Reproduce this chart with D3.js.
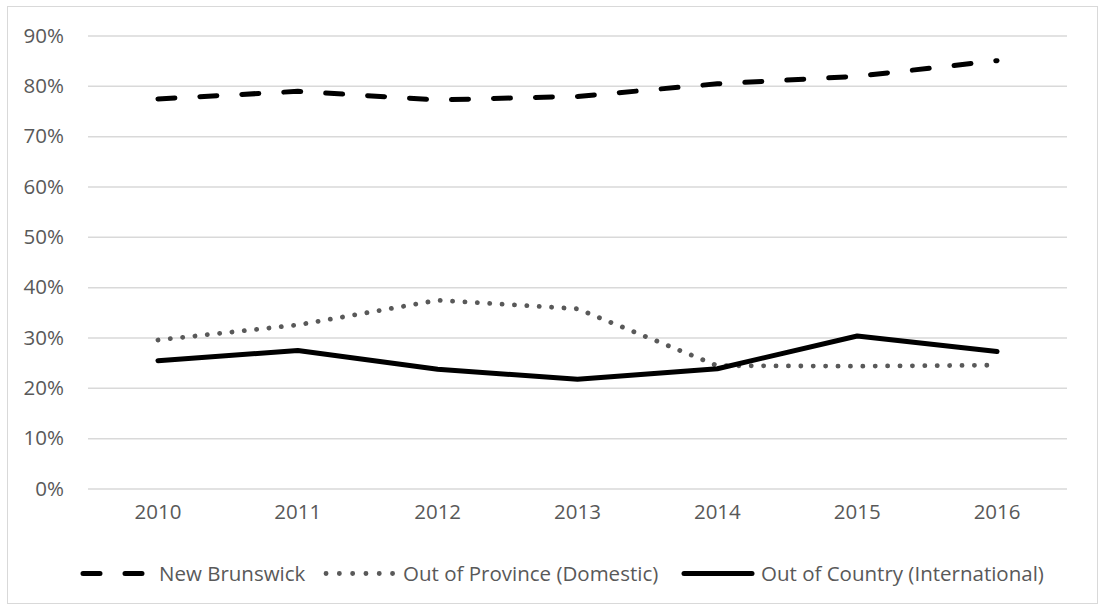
<!DOCTYPE html>
<html>
<head>
<meta charset="utf-8">
<script src="https://cdn.jsdelivr.net/npm/d3@7"></script>
<style>
  html, body { margin: 0; padding: 0; background: #fff; }
  svg { display: block; }
  text { font-family: "Open Sans", sans-serif; fill: #595959; }
</style>
</head>
<body>
<script>
const years = ["2010", "2011", "2012", "2013", "2014", "2015", "2016"];
const newBrunswick = [0.774, 0.789, 0.772, 0.779, 0.804, 0.819, 0.850];
const outOfProvince = [0.295, 0.325, 0.374, 0.357, 0.244, 0.243, 0.245];
const outOfCountry = [0.254, 0.274, 0.237, 0.217, 0.238, 0.303, 0.272];
const yTicks = [0, 0.1, 0.2, 0.3, 0.4, 0.5, 0.6, 0.7, 0.8, 0.9];
const seriesNames = ["New Brunswick", "Out of Province (Domestic)", "Out of Country (International)"];

const W = 1104, H = 609;
const FS = 20.5;
const svg = d3.select("body").append("svg").attr("width", W).attr("height", H);

// chart border
svg.append("rect").attr("x", 7.5).attr("y", 6.5).attr("width", 1090).attr("height", 597)
  .attr("fill", "#fff").attr("stroke", "#d9d9d9").attr("stroke-width", 1);

const x = d3.scaleBand().domain(years).range([88, 1067]);
const y = d3.scaleLinear().domain([0, 0.9]).range([488.5, 35.5]);
const cx = d => x(d) + x.bandwidth() / 2;

// gridlines + y labels
const yAxis = d3.axisLeft(y).tickValues(yTicks).tickFormat(d3.format(".0%"))
  .tickSize(-(1067 - 88)).tickPadding(24);
const gy = svg.append("g").attr("transform", "translate(88,0)").call(yAxis);
gy.select(".domain").remove();
gy.selectAll(".tick line").attr("stroke", "#d9d9d9").attr("stroke-width", 1.5);
gy.selectAll(".tick text").attr("font-size", FS).attr("fill", "#595959")
  .attr("font-family", "Open Sans, sans-serif");

// x axis labels
const xAxis = d3.axisBottom(x).tickSize(0).tickPadding(16);
const gx = svg.append("g").attr("transform", "translate(0,488.5)").call(xAxis);
gx.select(".domain").remove();
gx.selectAll(".tick text").attr("font-size", FS).attr("fill", "#595959")
  .attr("font-family", "Open Sans, sans-serif");

const styles = [
  { data: newBrunswick, color: "#000", width: 5, dash: "17,25", cap: "round" },
  { data: outOfProvince, color: "#595959", width: 4.8, dash: "0.1,12.3", cap: "round" },
  { data: outOfCountry, color: "#000", width: 5, dash: null, cap: "round" }
];

const line = d3.line().x((d, i) => cx(years[i])).y(d => y(d));

[1, 2, 0].forEach(k => {
  const s = styles[k];
  svg.append("path").datum(s.data)
    .attr("d", line)
    .attr("fill", "none")
    .attr("stroke", s.color)
    .attr("stroke-width", s.width)
    .attr("stroke-linecap", s.cap)
    .attr("stroke-linejoin", "round")
    .attr("stroke-dasharray", s.dash);
});

// legend
const legendY = 573.5;
const legendItems = [
  { x0: 83, x1: 146, tx: 159 },
  { x0: 326, x1: 393, tx: 403 },
  { x0: 684, x1: 752, tx: 761 }
];
legendItems.forEach((it, k) => {
  const s = styles[k];
  const g = svg.append("g");
  g.append("line").attr("x1", it.x0).attr("x2", it.x1).attr("y1", legendY).attr("y2", legendY)
    .attr("stroke", s.color).attr("stroke-width", s.width)
    .attr("stroke-linecap", s.cap)
    .attr("stroke-dasharray", k === 0 ? "17,25" : (k === 1 ? "0.1,13.2" : null));
  g.append("text").attr("x", it.tx).attr("y", 581).attr("font-size", FS).text(seriesNames[k]);
});
</script>
</body>
</html>
